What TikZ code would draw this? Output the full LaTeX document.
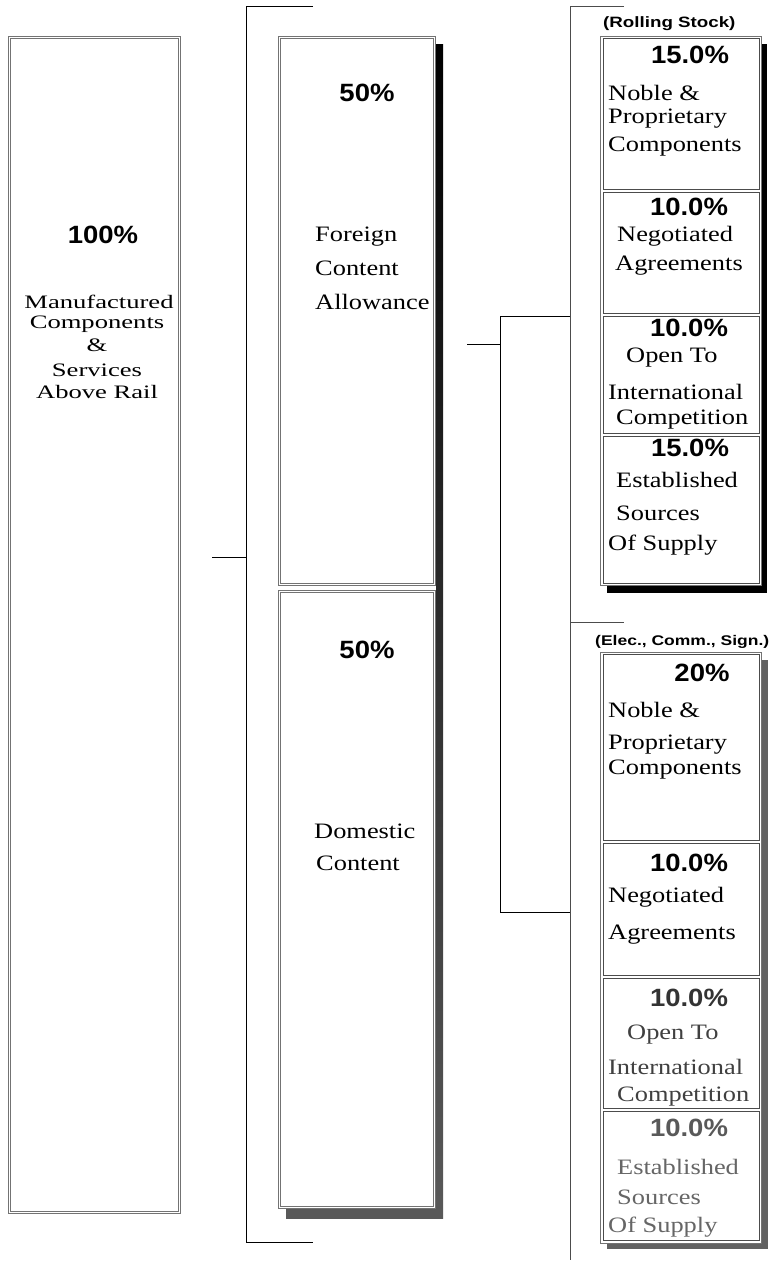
\documentclass[tikz,border=0pt]{standalone}
\usepackage{fontspec}
\setmainfont{Liberation Serif}[FakeStretch=1.2]
\newfontfamily\dgwide{Liberation Serif}[FakeStretch=1.4]
\newfontfamily\dgsans{Liberation Sans}[FakeStretch=1.1]
\newfontfamily\dglab{Liberation Sans}[FakeStretch=1.25]
\begin{document}
\begin{tikzpicture}[x=1pt,y=-1pt,
 txt/.style={font=\fontsize{22}{26}\selectfont, inner sep=0pt, anchor=west},
 ctxt/.style={font=\dgwide\fontsize{19}{22}\selectfont, inner sep=0pt},
 pct/.style={font=\dgsans\bfseries\fontsize{25}{28}\selectfont, inner sep=0pt},
 lab/.style={font=\dglab\bfseries\fontsize{15}{18}\selectfont, inner sep=0pt, anchor=west},
 dbox/.style={draw=black!55, double=white, double distance=1.6pt, line width=0.7pt, fill=white, inner sep=0pt, outer sep=0pt, anchor=north west},
 gbox/.style={draw=black!55, line width=0.7pt, fill=white, inner sep=0pt, outer sep=0pt, anchor=north west},
 sbox/.style={draw=black!70, line width=0.7pt, fill=white, inner sep=0pt, outer sep=0pt, anchor=north west},
 link/.style={draw=black, line width=0.7pt},
 rlink/.style={draw=black!70, line width=0.7pt}
]
\useasboundingbox (0,0) rectangle (770,1266);

% ---------- left box ----------
\node[dbox, minimum width=170pt, minimum height=1175pt] (total) at (9.5,37.5) {};
\node[pct] (tp) at (103,235) {100\%};
\node[ctxt] (t1) at (99,302) {Manufactured};
\node[ctxt] (t2) at (97,324) {Components};
\node[ctxt] (t3) at (97,345) {\&};
\node[ctxt] (t4) at (97,370) {Services};
\node[ctxt] (t5) at (97,392) {Above Rail};

% ---------- left bracket ----------
\coordinate (lstub) at (212,557);
\coordinate (lmid) at (246,557);
\coordinate (ltop) at (246,6);
\coordinate (lbot) at (246,1242);
\coordinate (ltopr) at (313,6);
\coordinate (lbotr) at (313,1242);
\draw[link] (lstub) -- (lmid);
\draw[link] (ltopr) -- (ltop) -- (lbot) -- (lbotr);

% ---------- middle column ----------
\shade[top color=black, bottom color=black!65] (286,44) rectangle (443,1218);
\fill[white] (278,36) rectangle (436,1209);
\node[dbox, minimum width=155pt, minimum height=547pt] (foreign) at (279.5,37.5) {};
\node[dbox, minimum width=155pt, minimum height=616pt] (domestic) at (279.5,591.5) {};
\node[pct] (fp) at (367,93) {50\%};
\node[txt] (f1) at (315,237) {Foreign};
\node[txt] (f2) at (315,268) {Content};
\node[txt] (f3) at (315,302) {Allowance};
\node[pct] (dp) at (367,650) {50\%};
\node[txt] (d1) at (314,831) {Domestic};
\node[txt] (d2) at (316,863) {Content};

% ---------- inner bracket ----------
\coordinate (mstub) at (467,344);
\coordinate (mmid) at (500,344);
\coordinate (mtop) at (500,316);
\coordinate (mbot) at (500,912);
\coordinate (mtopr) at (570,316);
\coordinate (mbotr) at (570,912);
\draw[link] (mstub) -- (mmid);
\draw[link] (mtopr) -- (mtop) -- (mbot) -- (mbotr);

% ---------- right bracket ----------
\coordinate (rtop) at (570,6);
\coordinate (rtopr) at (624,6);
\coordinate (rmid) at (570,622);
\coordinate (rmidr) at (624,622);
\coordinate (rbot) at (570,1260);
\draw[rlink] (rtopr) -- (rtop) -- (rbot);
\draw[rlink] (rmid) -- (rmidr);

% ---------- group 1 (Rolling Stock) ----------
\node[lab] (g1lab) at (603,24) {(Rolling Stock)};
\fill[black] (607,44) rectangle (767,593);
\node[gbox, minimum width=161pt, minimum height=549pt] (g1) at (600.5,36.5) {};
\node[sbox, minimum width=156pt, minimum height=151pt] (a1) at (603,38.5) {};
\node[sbox, minimum width=156pt, minimum height=121pt] (a2) at (603,192.5) {};
\node[sbox, minimum width=156pt, minimum height=116.5pt] (a3) at (603,316.5) {};
\node[sbox, minimum width=156pt, minimum height=147.5pt] (a4) at (603,436) {};

\node[pct] (a1p) at (690,55) {15.0\%};
\node[txt] (a1a) at (608,93) {Noble \&};
\node[txt] (a1b) at (608,119) {Proprietary};
\node[txt] (a1c) at (608,147) {Components};

\node[pct] (a2p) at (689,207) {10.0\%};
\node[txt] (a2a) at (617,236) {Negotiated};
\node[txt] (a2b) at (615,266) {Agreements};

\node[pct] (a3p) at (689,328) {10.0\%};
\node[txt] (a3a) at (626,358) {Open To};
\node[txt] (a3b) at (608,392) {International};
\node[txt] (a3c) at (616,420) {Competition};

\node[pct] (a4p) at (690,448) {15.0\%};
\node[txt] (a4a) at (616,480) {Established};
\node[txt] (a4b) at (616,513) {Sources};
\node[txt] (a4c) at (608,545) {Of Supply};

% ---------- group 2 (Elec., Comm., Sign.) ----------
\node[lab, font=\dglab\bfseries\fontsize{14}{17}\selectfont] (g2lab) at (595,642) {(Elec., Comm., Sign.)};
\fill[black!62] (607,660) rectangle (768,1249);
\node[gbox, minimum width=161pt, minimum height=591pt] (g2) at (600.5,652) {};
\node[sbox, minimum width=156pt, minimum height=185.5pt] (b1) at (603,654.5) {};
\node[sbox, minimum width=156pt, minimum height=132.5pt] (b2) at (603,843) {};
\node[sbox, minimum width=156pt, minimum height=129.5pt] (b3) at (603,978.5) {};
\node[sbox, minimum width=156pt, minimum height=129.5pt] (b4) at (603,1111) {};

\node[pct] (b1p) at (702,673) {20\%};
\node[txt] (b1a) at (608,710) {Noble \&};
\node[txt] (b1b) at (608,745) {Proprietary};
\node[txt] (b1c) at (608,770) {Components};

\node[pct] (b2p) at (689,863) {10.0\%};
\node[txt] (b2a) at (608,897) {Negotiated};
\node[txt] (b2b) at (608,935) {Agreements};

\node[pct, text=black!80] (b3p) at (689,998) {10.0\%};
\node[txt, text=black!75] (b3a) at (627,1035) {Open To};
\node[txt, text=black!75] (b3b) at (608,1067) {International};
\node[txt, text=black!75] (b3c) at (617,1097) {Competition};

\node[pct, text=black!65] (b4p) at (689,1128) {10.0\%};
\node[txt, text=black!60] (b4a) at (617,1167) {Established};
\node[txt, text=black!60] (b4b) at (617,1197) {Sources};
\node[txt, text=black!60] (b4c) at (608,1227) {Of Supply};
\end{tikzpicture}
\end{document}
